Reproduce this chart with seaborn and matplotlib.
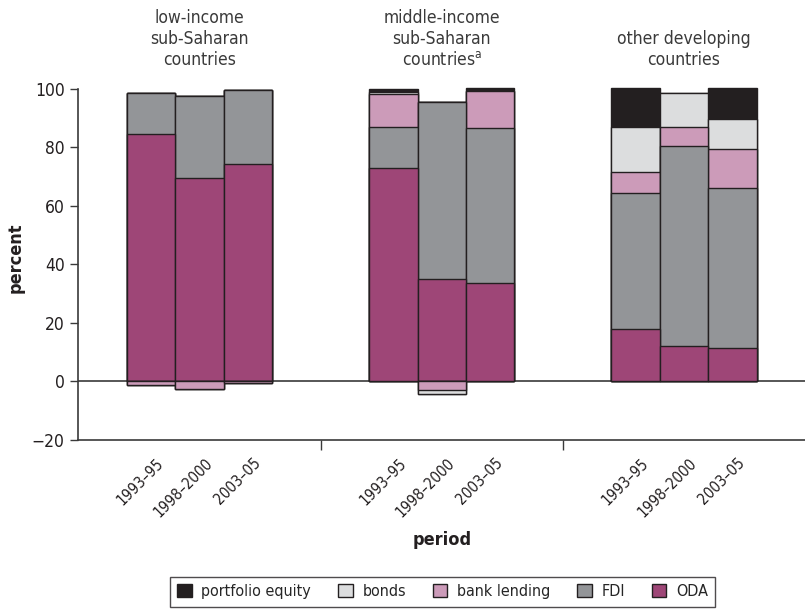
import numpy as np
import pandas as pd
import seaborn as sns
import matplotlib
matplotlib.use("Agg")
import matplotlib.pyplot as plt
import matplotlib.transforms as mtrans
from matplotlib.patches import Patch
from matplotlib.ticker import FixedLocator

# ---------------- data ----------------
groups = ["low-income\nsub-Saharan\ncountries",
          "middle-income\nsub-Saharan\ncountries$^{\\mathrm{a}}$",
          "other developing\ncountries"]
periods = ["1993–95", "1998–2000", "2003–05"]
series = ["ODA", "FDI", "bank lending", "bonds", "portfolio equity"]

# values per bar: (group1 x3, group2 x3, group3 x3)
oda = [84.6, 69.6, 74.2, 72.8, 34.9, 33.8, 18.0, 12.2, 11.6]
fdi = [14.1, 28.1, 25.3, 14.3, 60.7, 52.7, 46.3, 68.4, 54.7]
bank_lending = [-1.2, -2.5, -0.5, 11.1, -3.0, 12.8, 7.2, 6.5, 13.0]
bonds = [0.0, 0.0, 0.0, 0.9, -1.4, 0.0, 15.4, 11.6, 10.3]
portfolio_equity = [0.0, 0.0, 0.0, 0.9, 0.0, 0.9, 13.3, 0.0, 10.6]

colors = {"ODA": "#9E4677", "FDI": "#939598", "bank lending": "#CC9BB9",
          "bonds": "#DCDDDE", "portfolio equity": "#231F20"}
edge = "#231F20"

# ---------------- build stacked frame ----------------
pos = [0, 1, 2, 5, 6, 7, 10, 11, 12]
vals = {"ODA": oda, "FDI": fdi, "bank lending": bank_lending,
        "bonds": bonds, "portfolio equity": portfolio_equity}
arr = np.array([vals[s] for s in series])  # (5, 9)
posv = np.where(arr > 0, arr, 0).cumsum(axis=0)
negv = np.where(arr < 0, arr, 0).cumsum(axis=0)

sns.set_theme(style="white")
plt.rcParams["font.family"] = ["DejaVu Sans"]
plt.rcParams["font.stretch"] = "condensed"
plt.rcParams["mathtext.fontset"] = "custom"
plt.rcParams["mathtext.rm"] = "DejaVu Sans:stretch=condensed"
plt.rcParams["axes.unicode_minus"] = True

fig = plt.figure(figsize=(8.05, 6.09), dpi=100)
ax = fig.add_axes([0.0975, 0.2775, 0.9025, 0.5813])

ax.axhline(0, color="#3a3a3a", lw=1.2, zorder=0)

for i in range(len(series) - 1, -1, -1):
    s = series[i]
    dfp = pd.DataFrame({"x": pos, "y": posv[i]})
    sns.barplot(data=dfp, x="x", y="y", native_scale=True, width=1.0,
                color=colors[s], edgecolor=edge, linewidth=1.0,
                errorbar=None, saturation=1, ax=ax, zorder=2)
for i in range(len(series) - 1, -1, -1):
    s = series[i]
    if np.all(negv[i] == 0):
        continue
    dfn = pd.DataFrame({"x": pos, "y": negv[i]})
    dfn = dfn[dfn["y"] < 0]
    sns.barplot(data=dfn, x="x", y="y", native_scale=True, width=1.0,
                color=colors[s], edgecolor=edge, linewidth=1.0,
                errorbar=None, saturation=1, ax=ax, zorder=2)

ax.set_xlim(-1.5, 13.5)
ax.set_ylim(-20, 101)
ax.set_yticks(np.arange(-20, 101, 20))
ax.tick_params(axis="y", direction="out", length=6, width=1, color="#3a3a3a",
               labelsize=12.5, labelcolor="#231F20", left=True, pad=4)

ax.set_xticks(pos)
ax.set_xticklabels(periods * 3, rotation=45, ha="right", rotation_mode="anchor",
                   fontsize=11, color="#231F20")
ax.tick_params(axis="x", which="major", length=0, pad=11)
offset = mtrans.ScaledTranslation(5 / 100, 0, fig.dpi_scale_trans)
for lab in ax.get_xticklabels():
    lab.set_transform(lab.get_transform() + offset)
ax.xaxis.set_minor_locator(FixedLocator([3.5, 8.5]))
ax.tick_params(axis="x", which="minor", bottom=True, direction="out", length=7,
               width=1, color="#3a3a3a")

for sp in ["top", "right"]:
    ax.spines[sp].set_visible(False)
ax.spines["left"].set_bounds(-20, 100)
for sp in ["left", "bottom"]:
    ax.spines[sp].set_color("#3a3a3a")
    ax.spines[sp].set_linewidth(1.2)

ax.set_xlabel("")
ax.set_ylabel("")
fig.text(0.019, 0.577, "percent", rotation=90, fontsize=13, fontweight="bold",
         ha="center", va="center", color="#231F20")
fig.text(0.549, 0.113, "period", fontsize=13, fontweight="bold",
         ha="center", va="center", color="#231F20")

trans = mtrans.blended_transform_factory(ax.transData, fig.transFigure)
for gi, g in enumerate(groups):
    ax.text(1 + 5 * gi, 0.887, g, transform=trans, ha="center", va="bottom",
            fontsize=12.5, color="#3a3a3a", linespacing=1.2)

handles = [Patch(facecolor=colors[s], edgecolor=edge, linewidth=1.0)
           for s in series[::-1]]
leg = fig.legend(handles, series[::-1], loc="lower center", ncol=5,
                 bbox_to_anchor=(0.55, 0.004), borderaxespad=0,
                 frameon=True, fancybox=False,
                 edgecolor="#231F20", fontsize=11.5, handlelength=0.9,
                 handleheight=0.9, handletextpad=0.6, columnspacing=1.7,
                 borderpad=0.45)
leg.get_frame().set_linewidth(1.0)

fig.savefig("out.png", dpi=100)
